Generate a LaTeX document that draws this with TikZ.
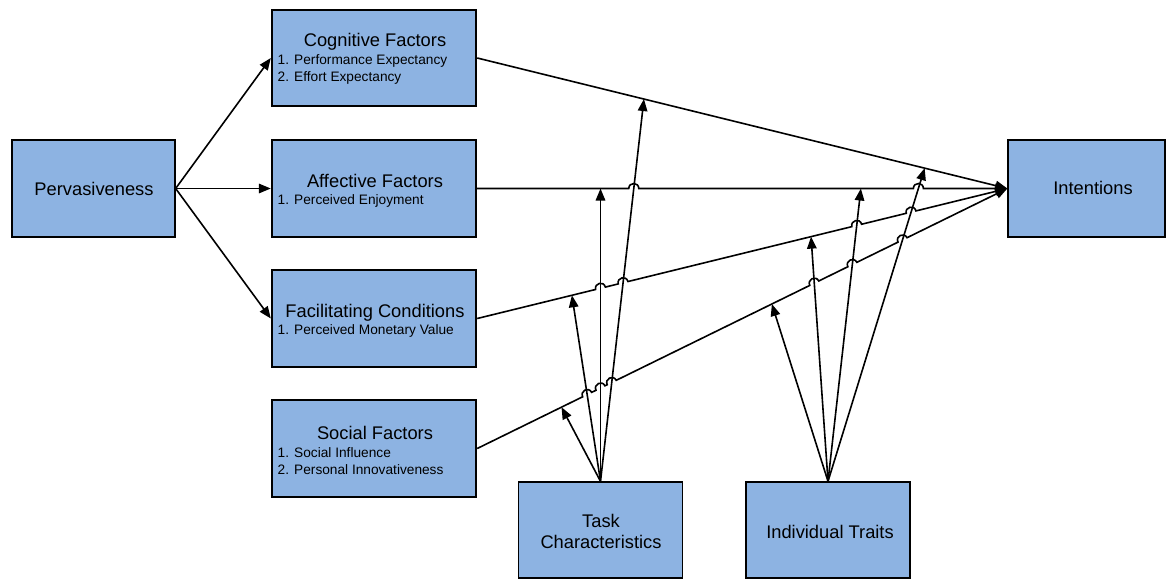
\documentclass[tikz,border=0pt]{standalone}
\usepackage{fontspec}
\setmainfont{Liberation Sans}
\usetikzlibrary{arrows.meta,calc,intersections}
\definecolor{boxblue}{HTML}{8DB3E2}
\begin{document}
\begin{tikzpicture}[x=1pt,y=-1pt,
  plainbox/.style={draw=black,line width=1.3pt,fill=boxblue,inner sep=0pt,minimum height=96pt},
  factorbox/.style={plainbox,line width=2.4pt,minimum width=204pt},
  title/.style={font=\fontsize{18.3}{22}\selectfont,inner sep=0pt,anchor=base},
  item/.style={font=\fontsize{13.7}{16}\selectfont,inner sep=0pt,anchor=base west},
  conn/.style={line width=1.6pt,-{Triangle[length=12pt,width=9.5pt]}},
  hop/.style={bend left=90,looseness=1.7}]

\path[use as bounding box,fill=white] (0,0) rectangle (1166,579);

% boxes
\node[plainbox,minimum width=163pt,minimum height=97pt] (perv) at (93.5,188.5) {};
\node[factorbox] (cog) at (374,58) {};
\node[factorbox,minimum height=97pt] (aff) at (374,188.5) {};
\node[factorbox,minimum height=97pt] (fac) at (374,318.5) {};
\node[factorbox,minimum height=97pt] (soc) at (374,448.5) {};
\node[plainbox,minimum width=157pt,minimum height=97pt] (int) at (1086.5,188.5) {};
\node[plainbox,minimum width=164pt] (task) at (600.5,530) {};
\node[plainbox,minimum width=164pt] (traits) at (828,530) {};

% box texts
\node[title] (pervT) at (94,195.3) {Pervasiveness};
\node[title] (cogT) at (375,46.6) {Cognitive Factors};
\node[item] (cog1) at (277.5,64.7) {1. Performance Expectancy};
\node[item] (cog2) at (277.5,81.4) {2. Effort Expectancy};
\node[title] (affT) at (375,187.6) {Affective Factors};
\node[item] (aff1) at (277.5,204.9) {1. Perceived Enjoyment};
\node[title] (facT) at (375,317.6) {Facilitating Conditions};
\node[item] (fac1) at (277.5,334.9) {1. Perceived Monetary Value};
\node[title] (socT) at (375,439.9) {Social Factors};
\node[item] (soc1) at (277.5,457.7) {1. Social Influence};
\node[item] (soc2) at (277.5,474.1) {2. Personal Innovativeness};
\node[title] (intT) at (1093,194.6) {Intentions};
\node[title] (taskT1) at (601,527) {Task};
\node[title] (taskT2) at (601,548.6) {Characteristics};
\node[title] (traitsT) at (830,538.3) {Individual Traits};

% points where the moderating arrows meet the factor lines
\coordinate (ts) at ($(soc.east)!0.159!(int.west)$);
\coordinate (tf) at ($(fac.east)!0.1786!(int.west)$);
\coordinate (ta) at (task.north |- aff.east);
\coordinate (tc) at ($(cog.east)!0.3145!(int.west)$);
\coordinate (rs) at ($(soc.east)!0.5558!(int.west)$);
\coordinate (rf) at ($(fac.east)!0.6297!(int.west)$);
\coordinate (ra) at ($(aff.east)!0.7237!(int.west)$);
\coordinate (rc) at ($(cog.east)!0.844!(int.west)$);

% crossing points, for the line hops
\path[name path=La] (aff.east) -- (int.west);
\path[name path=Lf] (fac.east) -- (int.west);
\path[name path=Ls] (soc.east) -- (int.west);
\path[name path=pTf] (task.north) -- (tf);
\path[name path=pTa] (task.north) -- (ta);
\path[name path=pTc] (task.north) -- (tc);
\path[name path=pRf] (traits.north) -- (rf);
\path[name path=pRa] (traits.north) -- (ra);
\path[name path=pRc] (traits.north) -- (rc);
\path[name intersections={of=La and pTc,by=hA1}];
\path[name intersections={of=La and pRc,by=hA2}];
\path[name intersections={of=Lf and pTa,by=hF1}];
\path[name intersections={of=Lf and pTc,by=hF2}];
\path[name intersections={of=Lf and pRa,by=hF3}];
\path[name intersections={of=Lf and pRc,by=hF4}];
\path[name intersections={of=Ls and pTf,by=hS1}];
\path[name intersections={of=Ls and pTa,by=hS2}];
\path[name intersections={of=Ls and pTc,by=hS3}];
\path[name intersections={of=Ls and pRf,by=hS4}];
\path[name intersections={of=Ls and pRa,by=hS5}];
\path[name intersections={of=Ls and pRc,by=hS6}];

% pervasiveness to the factors
\draw[conn] (perv.east) -- (cog.west);
\draw[conn] (perv.east) -- (aff.west);
\draw[conn] (perv.east) -- (fac.west);

% factors to intentions
\draw[conn] (cog.east) -- (int.west);
\draw[conn] (aff.east)
  -- ($(hA1)!5pt!(aff.east)$) to[hop] ($(hA1)!5pt!(int.west)$)
  -- ($(hA2)!5pt!(aff.east)$) to[hop] ($(hA2)!5pt!(int.west)$)
  -- (int.west);
\draw[conn] (fac.east)
  -- ($(hF1)!5pt!(fac.east)$) to[hop] ($(hF1)!5pt!(int.west)$)
  -- ($(hF2)!5pt!(fac.east)$) to[hop] ($(hF2)!5pt!(int.west)$)
  -- ($(hF3)!5pt!(fac.east)$) to[hop] ($(hF3)!5pt!(int.west)$)
  -- ($(hF4)!5pt!(fac.east)$) to[hop] ($(hF4)!5pt!(int.west)$)
  -- (int.west);
\draw[conn] (soc.east)
  -- ($(hS1)!5pt!(soc.east)$) to[hop] ($(hS1)!5pt!(int.west)$)
  -- ($(hS2)!5pt!(soc.east)$) to[hop] ($(hS2)!5pt!(int.west)$)
  -- ($(hS3)!5pt!(soc.east)$) to[hop] ($(hS3)!5pt!(int.west)$)
  -- ($(hS4)!5pt!(soc.east)$) to[hop] ($(hS4)!5pt!(int.west)$)
  -- ($(hS5)!5pt!(soc.east)$) to[hop] ($(hS5)!5pt!(int.west)$)
  -- ($(hS6)!5pt!(soc.east)$) to[hop] ($(hS6)!5pt!(int.west)$)
  -- (int.west);

% moderators
\draw[conn] (task.north) -- (ts);
\draw[conn] (task.north) -- (tf);
\draw[conn] (task.north) -- (ta);
\draw[conn] (task.north) -- (tc);
\draw[conn] (traits.north) -- (rs);
\draw[conn] (traits.north) -- (rf);
\draw[conn] (traits.north) -- (ra);
\draw[conn] (traits.north) -- (rc);
\end{tikzpicture}
\end{document}
